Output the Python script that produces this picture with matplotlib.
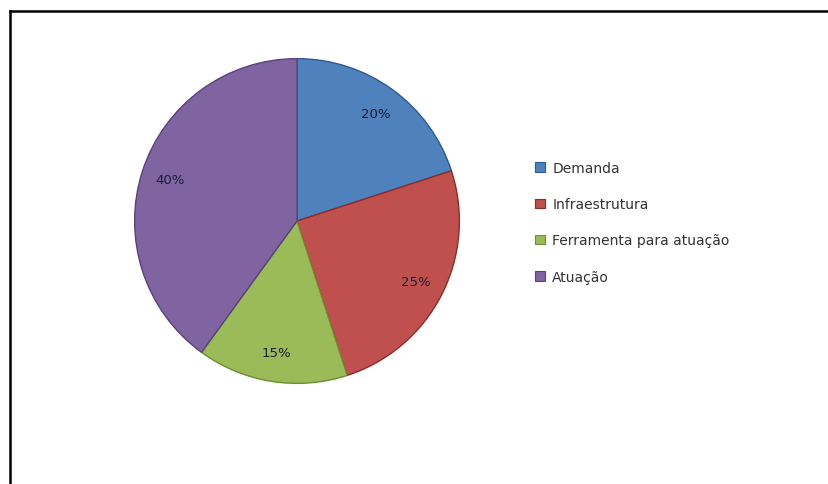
import matplotlib
matplotlib.use("Agg")
import matplotlib.pyplot as plt
from matplotlib.lines import Line2D

categories = ["Demanda", "Infraestrutura", "Ferramenta para atuação", "Atuação"]
values = [20, 25, 15, 40]
colors = ["#4F81BD", "#C0504D", "#9BBB59", "#8064A2"]
edge_colors = ["#2c5a94", "#8c2d2a", "#6e8c34", "#5a4279"]

W, H = 829, 485
fig = plt.figure(figsize=(W / 100, H / 100), dpi=100)
fig.patch.set_facecolor("white")

cx, cy, r = 297, 222, 164
ax = fig.add_axes([(cx - r) / W, (H - cy - r) / H, 2 * r / W, 2 * r / H])
wedges, texts, autotexts = ax.pie(
    values, colors=colors, startangle=90, counterclock=False,
    autopct=lambda p: f"{p:.0f}%", pctdistance=0.82, radius=1.0,
    wedgeprops=dict(linewidth=1.0),
    textprops=dict(fontsize=9.5, color="#1c1c30"))
for w, ec in zip(wedges, edge_colors):
    w.set_edgecolor(ec)
ax.set_xlim(-1.01, 1.01)
ax.set_ylim(-1.01, 1.01)
ax.set_aspect("equal")
ax.axis("off")

handles = [plt.Rectangle((0, 0), 1, 1, facecolor=c, edgecolor=ec, linewidth=0.8)
           for c, ec in zip(colors, edge_colors)]
fig.legend(handles, categories, loc="upper left",
           bbox_to_anchor=(535 / W, 1 - 162 / H), frameon=False,
           handlelength=0.7, handleheight=0.7, handletextpad=0.55,
           labelspacing=1.6, fontsize=10, labelcolor="#333333",
           borderaxespad=0, borderpad=0)

# partial chart border (top and left edges visible)
fig.add_artist(Line2D([10 / W, 1.0], [1 - 12 / H, 1 - 12 / H], color="black",
                      linewidth=1.8, transform=fig.transFigure))
fig.add_artist(Line2D([10 / W, 10 / W], [0.0, 1 - 12 / H], color="black",
                      linewidth=1.8, transform=fig.transFigure))

fig.savefig("out.png", dpi=100)
